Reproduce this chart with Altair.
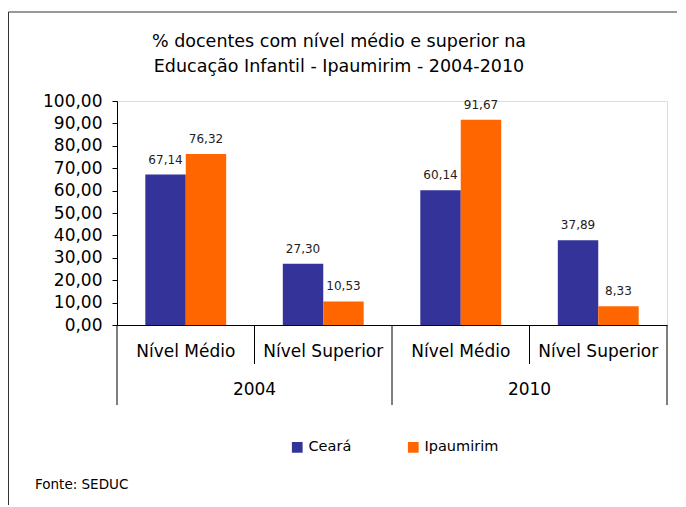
import altair as alt
import pandas as pd

# ---- data ----
years = ["2004", "2004", "2010", "2010"]
levels = ["Nível Médio", "Nível Superior", "Nível Médio", "Nível Superior"]
series = ["Ceará", "Ipaumirim"]
ceara = [67.14, 27.30, 60.14, 37.89]
ipaumirim = [76.32, 10.53, 91.67, 8.33]
colors = ["#333399", "#FF6600"]
title_lines = ["% docentes com nível médio e superior na",
               "Educação Infantil - Ipaumirim - 2004-2010"]
source_note = ["Fonte: SEDUC"]
y_ticks = list(range(0, 101, 10))

FONT = "DejaVu Sans"
W, H = 550, 224

cats = [f"{y} | {l}" for y, l in zip(years, levels)]

rows = []
for c, y, l, a, b in zip(cats, years, levels, ceara, ipaumirim):
    rows.append({"cat": c, "year": y, "level": l, "serie": series[0], "value": a})
    rows.append({"cat": c, "year": y, "level": l, "serie": series[1], "value": b})
df = pd.DataFrame(rows)

cat_df = pd.DataFrame({"cat": cats, "level": levels, "year": years,
                       "first": [i == 0 or years[i] != years[i - 1] for i in range(len(cats))]})
# year label sits at the boundary between its two sub-categories
year_df = pd.DataFrame({
    "cat": [cats[i] for i in range(len(cats)) if i > 0 and years[i] == years[i - 1]],
    "year": [years[i] for i in range(len(cats)) if i > 0 and years[i] == years[i - 1]],
})

xscale = alt.Scale(domain=cats, paddingInner=0, paddingOuter=0)
yscale = alt.Scale(domain=[0, 100], nice=False)
offscale = alt.Scale(domain=series, paddingInner=0, paddingOuter=0.70)

y_axis = alt.Axis(values=y_ticks, tickCount=11, grid=False, title=None, tickSize=5,
                  tickColor="black", domainColor="black", labelColor="black",
                  labelFontSize=17, labelFont=FONT, labelPadding=10,
                  labelOverlap=False, labelSeparation=0,
                  labelExpr="replace(format(datum.value, '.2f'), '.', ',')")
x_axis = alt.Axis(labels=False, ticks=False, domain=True, domainColor="black", title=None)

bars = alt.Chart(df).mark_bar().encode(
    x=alt.X("cat:N", scale=xscale, sort=cats, axis=x_axis),
    xOffset=alt.XOffset("serie:N", scale=offscale, sort=series),
    y=alt.Y("value:Q", scale=yscale, axis=y_axis),
    color=alt.Color("serie:N", sort=series,
                    scale=alt.Scale(domain=series, range=colors),
                    legend=alt.Legend(orient="none", legendX=173, legendY=339,
                                      direction="horizontal", title=None,
                                      symbolType="square", symbolSize=115,
                                      symbolStrokeWidth=0, labelFontSize=14.5,
                                      labelFont=FONT, labelColor="black",
                                      labelOffset=4, columnPadding=54)),
)

labels = alt.Chart(df).transform_calculate(
    txt="replace(format(datum.value, '.2f'), '.', ',')"
).mark_text(baseline="middle", dy=-15, fontSize=12, font=FONT, color="#222222").encode(
    x=alt.X("cat:N", scale=xscale, sort=cats, axis=x_axis),
    xOffset=alt.XOffset("serie:N", scale=offscale, sort=series),
    y=alt.Y("value:Q", scale=yscale, axis=y_axis),
    text="txt:N",
)

cat_labels = alt.Chart(cat_df).mark_text(fontSize=17, font=FONT, color="black",
                                         baseline="middle").encode(
    x=alt.X("cat:N", scale=xscale, sort=cats, axis=x_axis),
    y=alt.value(H + 27),
    text="level:N",
)

year_labels = alt.Chart(year_df).mark_text(fontSize=17, font=FONT, color="black",
                                           baseline="middle").encode(
    x=alt.X("cat:N", scale=xscale, sort=cats, bandPosition=0, axis=x_axis),
    y=alt.value(H + 65),
    text="year:N",
)

short_sep = alt.Chart(cat_df).transform_filter("!datum.first").mark_rule(
    color="black", strokeWidth=1).encode(
    x=alt.X("cat:N", scale=xscale, sort=cats, bandPosition=0, axis=x_axis),
    y=alt.value(H), y2=alt.value(H + 39),
)
long_sep = alt.Chart(cat_df).transform_filter("datum.first").mark_rule(
    color="black", strokeWidth=1).encode(
    x=alt.X("cat:N", scale=xscale, sort=cats, bandPosition=0, axis=x_axis),
    y=alt.value(H), y2=alt.value(H + 80),
)
end_sep = alt.Chart(pd.DataFrame({"k": [0]})).mark_rule(color="black", strokeWidth=1).encode(
    x=alt.value(W), y=alt.value(H), y2=alt.value(H + 80),
)

title_df = pd.DataFrame({"t": title_lines, "i": list(range(len(title_lines)))})
title = alt.Chart(title_df).transform_calculate(
    ypos="-59 + datum.i * 25"
).mark_text(fontSize=17.5, font=FONT, color="black", baseline="middle", align="center").encode(
    x=alt.value(222),
    y=alt.Y("ypos:Q", scale=None),
    text="t:N",
)

note = alt.Chart(pd.DataFrame({"t": source_note})).mark_text(
    fontSize=13.5, font=FONT, color="black", align="left", baseline="middle").encode(
    x=alt.value(-82), y=alt.value(384), text="t:N",
)

frame = alt.Chart(pd.DataFrame({"k": [0]})).mark_rect(
    fillOpacity=0, stroke="#333333", strokeWidth=1).encode(
    x=alt.value(-108.5), x2=alt.value(W + 60), y=alt.value(-89), y2=alt.value(H + 250),
)

chart = alt.layer(
    frame, bars, labels, short_sep, long_sep, end_sep, cat_labels, year_labels, title, note
).properties(
    width=W, height=H,
    autosize=alt.AutoSizeParams(type="none"),
    padding={"left": 109, "top": 93, "right": 10, "bottom": 180},
    background="white",
).configure_view(strokeWidth=0).configure(font=FONT)

chart.save("out.html", embed_options={"renderer": "svg", "actions": False})
